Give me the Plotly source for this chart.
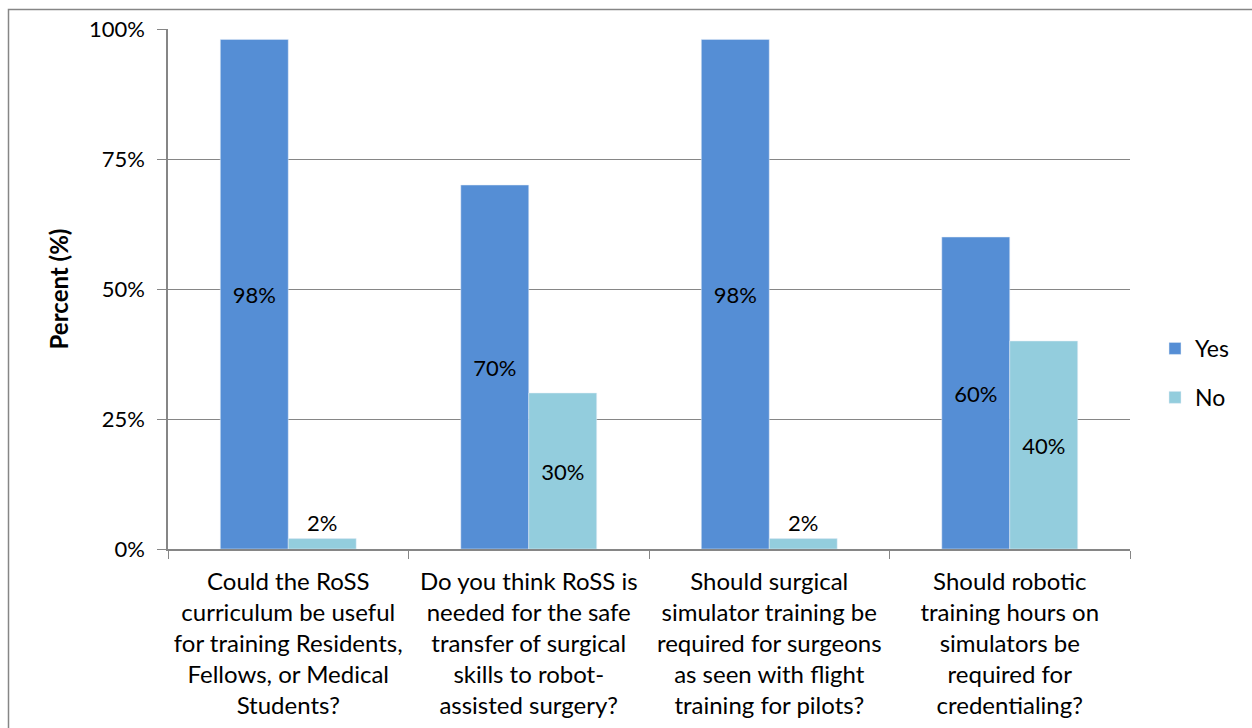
import plotly.graph_objects as go

categories = [
    "Could the RoSS<br>curriculum be useful<br>for training Residents,<br>Fellows, or Medical<br>Students?",
    "Do you think RoSS is<br>needed for the safe<br>transfer of surgical<br>skills to robot-<br>assisted surgery?",
    "Should surgical<br>simulator training be<br>required for surgeons<br>as seen with flight<br>training for pilots?",
    "Should robotic<br>training hours on<br>simulators be<br>required for<br>credentialing?",
]
yes_vals = [98, 70, 98, 60]
no_vals = [2, 30, 2, 40]
y_ticks = [0, 25, 50, 75, 100]

FONT = "Lato, Open Sans, sans-serif"
W, H = 1252, 728
L, R, T, B = 168, 122, 29, 179
pw, ph = W - L - R, H - T - B

def px_x(p):
    return (p - L) / pw

def px_y(p):
    return (H - B - p) / ph

fig = go.Figure()
fig.add_trace(go.Bar(
    name="Yes", x=categories, y=yes_vals, marker_color="#558ED5",
    legendgroup="yes",
    text=[f"{v}%" for v in yes_vals], textposition="inside",
    insidetextanchor="middle", textfont=dict(color="black", size=22, family=FONT),
    cliponaxis=False,
))
fig.add_trace(go.Bar(
    name="No", x=categories, y=no_vals, marker_color="#93CDDD",
    legendgroup="no",
    text=[f"{v}%" for v in no_vals],
    textposition=["outside" if v < 10 else "inside" for v in no_vals],
    insidetextanchor="middle", textfont=dict(color="black", size=22, family=FONT),
    cliponaxis=False,
))

fig.update_layout(
    width=W, height=H,
    margin=dict(l=L, r=R, t=T, b=B, autoexpand=False),
    barmode="group", bargap=0.435, bargroupgap=0,
    plot_bgcolor="white", paper_bgcolor="white",
    font=dict(family=FONT, size=22, color="black"),
    uniformtext=dict(mode="show", minsize=22),
    legend=dict(x=px_x(1155), y=px_y(373), xanchor="left", yanchor="middle",
                font=dict(size=23), itemwidth=30, traceorder="grouped",
                tracegroupgap=16, bgcolor="rgba(0,0,0,0)"),
    shapes=[dict(type="rect", xref="paper", yref="paper",
                 x0=px_x(8.5), x1=px_x(1400), y0=px_y(800), y1=px_y(9.5),
                 line=dict(color="#868686", width=1.5), layer="below")],
)
fig.update_xaxes(
    showline=True, linecolor="#868686", linewidth=1.5,
    ticks="outside", tickson="boundaries", ticklen=8, tickcolor="#868686",
    tickfont=dict(size=24), showgrid=False, ticklabelstandoff=10,
)
fig.update_yaxes(
    range=[0, 100], tickvals=y_ticks, ticktext=[f"{v}%" for v in y_ticks],
    showline=True, linecolor="#868686", linewidth=1.5,
    ticks="outside", ticklen=9, tickcolor="#868686",
    showgrid=True, gridcolor="#868686", gridwidth=1.2,
    tickfont=dict(size=22), ticklabelstandoff=8,
    title=dict(text="<b>Percent (%)</b>", font=dict(size=24), standoff=14),
)
fig.write_html("out.html")
